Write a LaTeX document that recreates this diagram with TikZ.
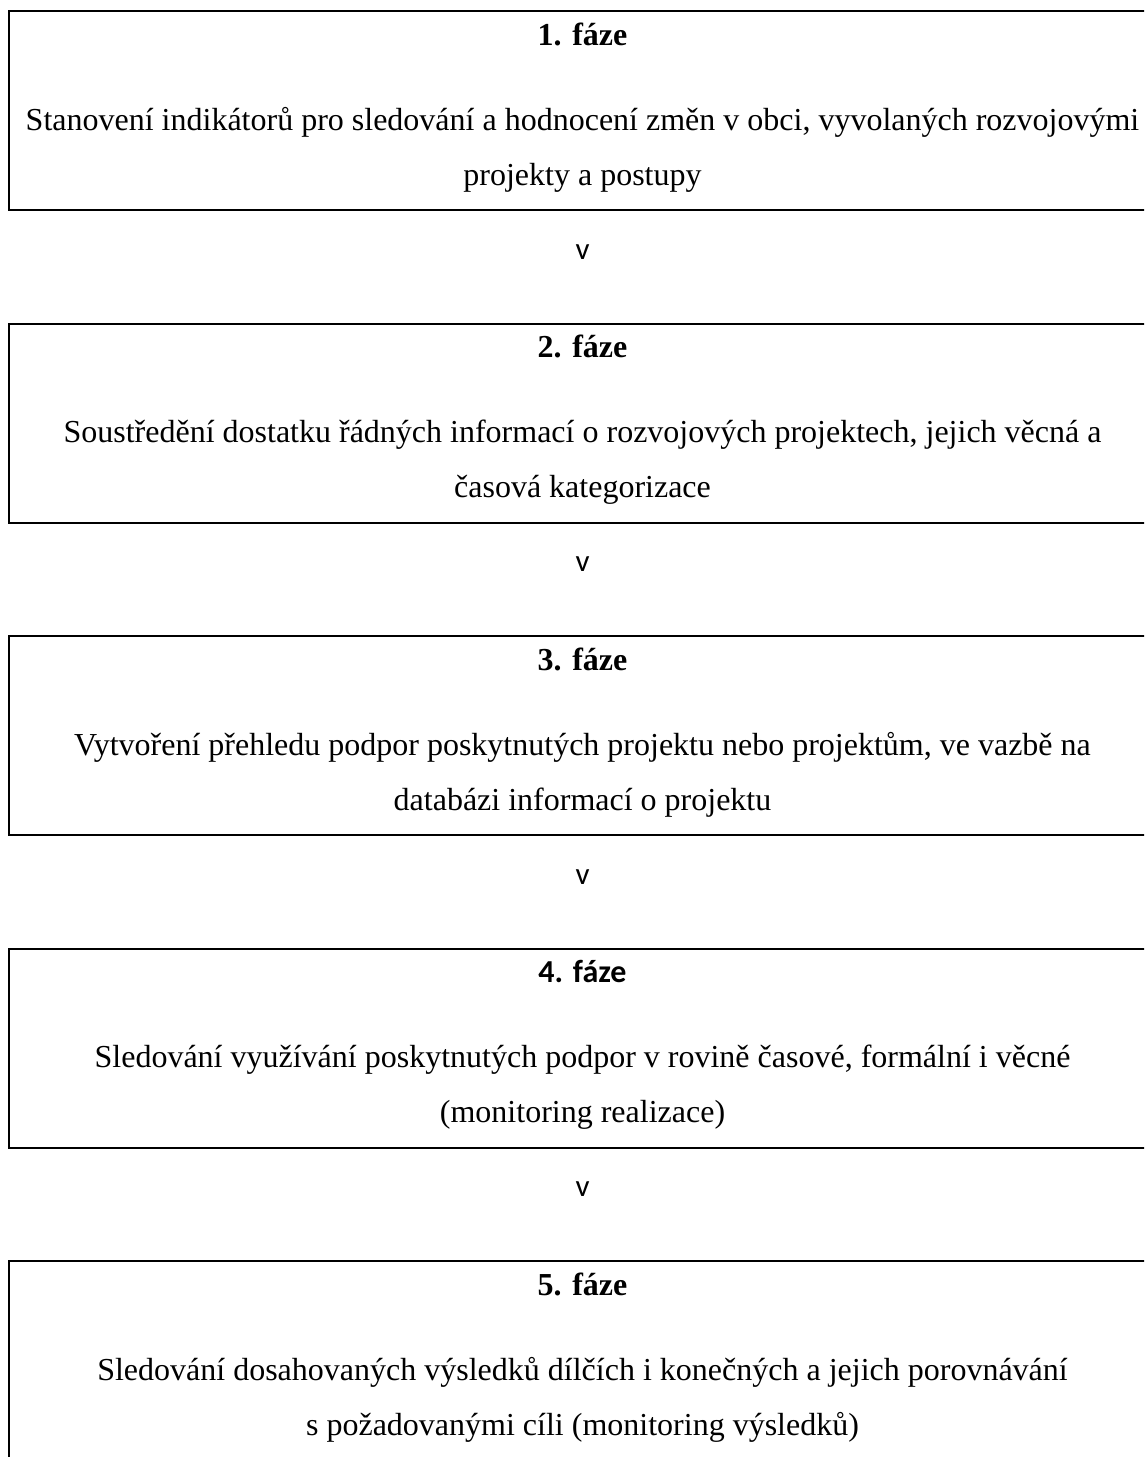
\documentclass[tikz,border=0pt]{standalone}
\usepackage{fontspec}
\setmainfont{Liberation Serif}
\newfontfamily\calibri{Carlito}
\usepackage{xcolor}
\usepackage{tikz}

\begin{document}
\begin{tikzpicture}[x=1pt, y=-1pt,
                	    phase/.style = { rectangle, draw, black, line width = 2pt, minimum width = 1147pt, minimum height = 199pt, inner sep=0pt },
                		heading/.style = { font = \fontsize{32}{38}\selectfont\bfseries, anchor = base, inner sep=0pt },
                		textline/.style = { font = \fontsize{32}{38}\selectfont, anchor = base, inner sep=0pt },
                		chevron/.style = { font = \fontsize{31}{36}\selectfont\calibri, anchor = base, inner sep=0pt },
            		]
            		    \useasboundingbox (0,0) rectangle (1144,1457);
            		    \clip (0,0) rectangle (1144,1457);
            		    % 1. faze
            		    \node[phase] (Phase1) at (582.5,110.5) {};
            		    \node[heading] (Head1) at ([yshift=-35pt]Phase1.north) {1. fáze};
            		    \node[textline] (Text1a) at ([yshift=-120pt]Phase1.north) {Stanovení indikátorů pro sledování a hodnocení změn v obci, vyvolaných rozvojovými};
            		    \node[textline] (Text1b) at ([yshift=-175pt]Phase1.north) {projekty a postupy};
            		    \node[chevron] (Next1) at ([yshift=-48pt]Phase1.south) {v};
            		    % 2. faze
            		    \node[phase] (Phase2) at (582.5,423) {};
            		    \node[heading] (Head2) at ([yshift=-35pt]Phase2.north) {2. fáze};
            		    \node[textline] (Text2a) at ([yshift=-120pt]Phase2.north) {Soustředění dostatku řádných informací o rozvojových projektech, jejich věcná a};
            		    \node[textline] (Text2b) at ([yshift=-175pt]Phase2.north) {časová kategorizace};
            		    \node[chevron] (Next2) at ([yshift=-48pt]Phase2.south) {v};
            		    % 3. faze
            		    \node[phase] (Phase3) at (582.5,735.5) {};
            		    \node[heading] (Head3) at ([yshift=-35pt]Phase3.north) {3. fáze};
            		    \node[textline] (Text3a) at ([yshift=-120pt]Phase3.north) {Vytvoření přehledu podpor poskytnutých projektu nebo projektům, ve vazbě na};
            		    \node[textline] (Text3b) at ([yshift=-175pt]Phase3.north) {databázi informací o projektu};
            		    \node[chevron] (Next3) at ([yshift=-48pt]Phase3.south) {v};
            		    % 4. faze
            		    \node[phase] (Phase4) at (582.5,1048) {};
            		    \node[heading, font = \fontsize{32}{38}\selectfont\calibri\bfseries] (Head4) at ([yshift=-35pt]Phase4.north) {4. fáze};
            		    \node[textline] (Text4a) at ([yshift=-120pt]Phase4.north) {Sledování využívání poskytnutých podpor v rovině časové, formální i věcné};
            		    \node[textline] (Text4b) at ([yshift=-175pt]Phase4.north) {(monitoring realizace)};
            		    \node[chevron] (Next4) at ([yshift=-48pt]Phase4.south) {v};
            		    % 5. faze
            		    \node[phase] (Phase5) at (582.5,1360.5) {};
            		    \node[heading] (Head5) at ([yshift=-35pt]Phase5.north) {5. fáze};
            		    \node[textline] (Text5a) at ([yshift=-120pt]Phase5.north) {Sledování dosahovaných výsledků dílčích i konečných a jejich porovnávání};
            		    \node[textline] (Text5b) at ([yshift=-175pt]Phase5.north) {s požadovanými cíli (monitoring výsledků)};
            		\end{tikzpicture}
\end{document}
